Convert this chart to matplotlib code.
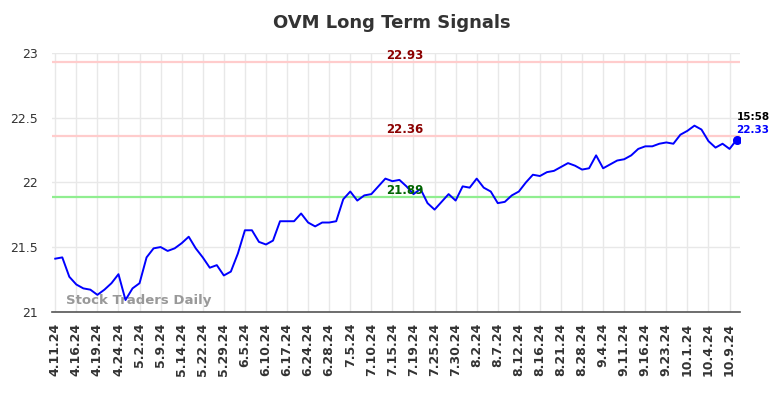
import matplotlib; matplotlib.use("Agg")
import matplotlib.pyplot as plt
import numpy as np

PRICE=[21.41,21.42,21.27,21.21,21.18,21.17,21.13,21.17,21.22,21.29,
       21.09,21.18,21.22,21.42,21.49,21.50,21.47,21.49,21.53,21.58,
       21.49,21.42,21.34,21.36,21.28,21.31,21.45,21.63,21.63,21.54,
       21.52,21.55,21.70,21.70,21.70,21.76,21.69,21.66,21.69,21.69,
       21.70,21.87,21.93,21.86,21.90,21.91,21.97,22.03,22.01,22.02,
       21.97,21.91,21.95,21.84,21.79,21.85,21.91,21.86,21.97,21.96,
       22.03,21.96,21.93,21.84,21.85,21.90,21.93,22.00,22.06,22.05,
       22.08,22.09,22.12,22.15,22.13,22.10,22.11,22.21,22.11,22.14,
       22.17,22.18,22.21,22.26,22.28,22.28,22.30,22.31,22.30,22.37,
       22.40,22.44,22.41,22.32,22.27,22.30,22.26,22.33]
TICKS=["4.11.24","4.16.24","4.19.24","4.24.24","5.2.24","5.9.24","5.14.24","5.22.24",
       "5.29.24","6.5.24","6.10.24","6.17.24","6.24.24","6.28.24","7.5.24","7.10.24",
       "7.15.24","7.19.24","7.25.24","7.30.24","8.2.24","8.7.24","8.12.24","8.16.24",
       "8.21.24","8.28.24","9.4.24","9.11.24","9.16.24","9.23.24","10.1.24","10.4.24","10.9.24"]
RESIST=[22.93,22.36]; SUPPORT=[21.89]
LAST_TIME="15:58"

TXT="#333333"; GRID="#e8e8e8"
plt.rcParams.update({"font.family":"DejaVu Sans","text.color":TXT,"axes.edgecolor":"#555555"})

fig=plt.figure(figsize=(7.84,3.98),dpi=100)
ax=fig.add_axes([0.066,0.217,0.878,0.649])
x=np.arange(len(PRICE))

for v in RESIST:
    ax.axhline(v,color="#ffcccc",lw=1.6,zorder=1)
    ax.text(0.513,v,f"{v:.2f}",transform=ax.get_yaxis_transform(),ha="center",va="bottom",
            color="#8b0000",fontsize=8.5,fontweight="bold",zorder=4)
for v in SUPPORT:
    ax.axhline(v,color="#90ee90",lw=1.6,zorder=1)
    ax.text(0.513,v,f"{v:.2f}",transform=ax.get_yaxis_transform(),ha="center",va="bottom",
            color="#006400",fontsize=8.5,fontweight="bold",zorder=4)

ax.plot(x,PRICE,color="#0000ff",lw=1.4,zorder=3)
ax.plot(x[-1],PRICE[-1],"o",color="#0000ff",ms=5.5,zorder=5)
ax.text(x[-1],PRICE[-1]+0.14,LAST_TIME,ha="left",va="bottom",color="black",fontsize=7.5,fontweight="bold")
ax.text(x[-1],PRICE[-1]+0.04,f"{PRICE[-1]:.2f}",ha="left",va="bottom",color="#0000ff",fontsize=7.5,fontweight="bold")

ax.text(0.02,0.03,"Stock Traders Daily",transform=ax.transAxes,color="#999999",
        fontsize=9.5,fontweight="bold",zorder=2)

ax.set_xlim(-0.5,97.5); ax.set_ylim(21,23)
ax.set_yticks([21,21.5,22,22.5,23]); ax.set_yticklabels(["21","21.5","22","22.5","23"])
ax.set_xticks(x[::3][:len(TICKS)]); ax.set_xticklabels(TICKS,rotation=90,fontweight="bold",fontsize=8.5,color="#444444")
ax.tick_params(length=0,labelsize=9,colors=TXT)
ax.tick_params(axis="x",pad=8)
ax.tick_params(axis="y",pad=10)
ax.grid(True,color=GRID,lw=1,zorder=0); ax.set_axisbelow(True)
for s in ["top","left","right"]: ax.spines[s].set_visible(False)
ax.spines["bottom"].set_linewidth(1.2)

fig.suptitle("OVM Long Term Signals",x=0.5,y=0.965,fontsize=13,fontweight="bold",color=TXT)
fig.savefig("out.png",dpi=100)
